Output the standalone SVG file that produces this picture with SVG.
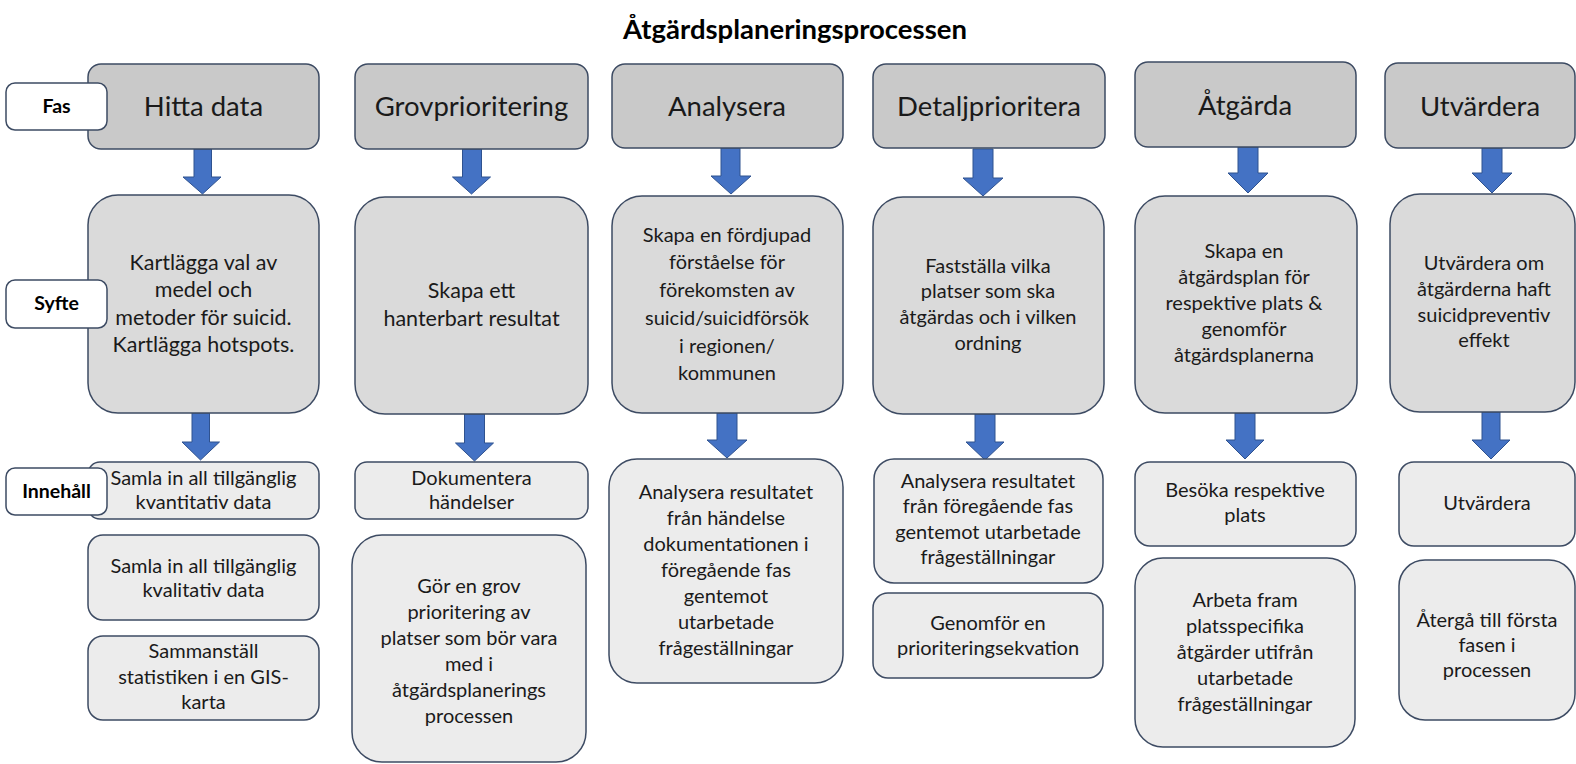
<svg xmlns="http://www.w3.org/2000/svg" width="1576" height="764" viewBox="0 0 1576 764">
  <style>
    .phase { fill: #c9c9c9; stroke: #3d4b63; stroke-width: 1.5; }
    .aim { fill: #dadada; stroke: #3d4b63; stroke-width: 1.5; }
    .content { fill: #ececec; stroke: #3d4b63; stroke-width: 1.5; }
    .label { fill: #ffffff; stroke: #3d4b63; stroke-width: 1.5; }
    .arrow { fill: #4472c4; stroke: #2f528f; stroke-width: 1; }
    text { font-family: Lato, "Open Sans", sans-serif; fill: #1a1a1a; text-anchor: middle; }
    .title { font-size: 27.5px; font-weight: bold; fill: #000; }
    .tphase { font-size: 27.5px; }
    .taimL { font-size: 21.5px; }
    .taim { font-size: 20px; }
    .tcont { font-size: 20px; }
    .tlabel { font-size: 19.5px; font-weight: bold; fill: #000; }
  </style>

  <text class="title" x="795" y="39">Åtgärdsplaneringsprocessen</text>

  <!-- connectors: block arrows between the rows -->
  <g id="connectors">
    <polygon class="arrow" points="194,149 211.5,149 211.5,177 221,177 202.5,194 183,177 194,177"/>
    <polygon class="arrow" points="462.5,149 481.5,149 481.5,177 490.5,177 471.5,194 452.5,177 462.5,177"/>
    <polygon class="arrow" points="721,148 740,148 740,176 751,176 731,194 711,176 721,176"/>
    <polygon class="arrow" points="973,149 993,149 993,178 1003,178 983,196 963,178 973,178"/>
    <polygon class="arrow" points="1238,147 1258,147 1258,173 1268,173 1248,193 1228,173 1238,173"/>
    <polygon class="arrow" points="1482,148 1502,148 1502,173 1512,173 1492,193 1472,173 1482,173"/>

    <polygon class="arrow" points="192,413 209.5,413 209.5,442 219.5,442 200.5,460 182,442 192,442"/>
    <polygon class="arrow" points="464.5,414 484.5,414 484.5,443 493.5,443 474.5,461 455.5,443 464.5,443"/>
    <polygon class="arrow" points="717,413 737,413 737,440 747,440 727,458 707,440 717,440"/>
    <polygon class="arrow" points="975,414 995,414 995,442 1004,442 985,460 966,442 975,442"/>
    <polygon class="arrow" points="1235,413 1255,413 1255,440 1264,440 1245,459 1226,440 1235,440"/>
    <polygon class="arrow" points="1482,412 1500,412 1500,440 1510,440 1491,459 1472,440 1482,440"/>
  </g>

  <!-- column 1 -->
  <g id="phase-hitta-data">
    <rect class="phase" x="88" y="64" width="231" height="85" rx="13"/>
    <text class="tphase" x="203.5" y="116">Hitta data</text>
  </g>
  <g id="aim-hitta-data">
    <rect class="aim" x="88" y="195" width="231" height="218" rx="30"/>
    <text class="taimL"><tspan x="203.5" y="270">Kartlägga val av</tspan><tspan x="203.5" y="297">medel och</tspan><tspan x="203.5" y="325">metoder för suicid.</tspan><tspan x="203.5" y="352">Kartlägga hotspots.</tspan></text>
  </g>
  <g id="content-kvantitativ">
    <rect class="content" x="88" y="462" width="231" height="57" rx="12"/>
    <text class="tcont"><tspan x="203.5" y="485">Samla in all tillgänglig</tspan><tspan x="203.5" y="509">kvantitativ data</tspan></text>
  </g>
  <g id="content-kvalitativ">
    <rect class="content" x="88" y="535" width="231" height="85" rx="15"/>
    <text class="tcont"><tspan x="203.5" y="573">Samla in all tillgänglig</tspan><tspan x="203.5" y="597">kvalitativ data</tspan></text>
  </g>
  <g id="content-gis">
    <rect class="content" x="88" y="636" width="231" height="84" rx="15"/>
    <text class="tcont"><tspan x="203.5" y="658">Sammanställ</tspan><tspan x="203.5" y="684">statistiken i en GIS-</tspan><tspan x="203.5" y="709">karta</tspan></text>
  </g>

  <!-- column 2 -->
  <g id="phase-grovprioritering">
    <rect class="phase" x="355" y="64" width="233" height="85" rx="13"/>
    <text class="tphase" x="471.5" y="116">Grovprioritering</text>
  </g>
  <g id="aim-grovprioritering">
    <rect class="aim" x="355" y="197" width="233" height="217" rx="30"/>
    <text class="taimL"><tspan x="471.5" y="298">Skapa ett</tspan><tspan x="471.5" y="326">hanterbart resultat</tspan></text>
  </g>
  <g id="content-dokumentera">
    <rect class="content" x="355" y="462" width="233" height="57" rx="12"/>
    <text class="tcont"><tspan x="471.5" y="485">Dokumentera</tspan><tspan x="471.5" y="509">händelser</tspan></text>
  </g>
  <g id="content-grov-prioritering">
    <rect class="content" x="352" y="535" width="234" height="227" rx="30"/>
    <text class="tcont"><tspan x="469" y="593">Gör en grov</tspan><tspan x="469" y="619">prioritering av</tspan><tspan x="469" y="645">platser som bör vara</tspan><tspan x="469" y="671">med i</tspan><tspan x="469" y="697">åtgärdsplanerings</tspan><tspan x="469" y="723">processen</tspan></text>
  </g>

  <!-- column 3 -->
  <g id="phase-analysera">
    <rect class="phase" x="612" y="64" width="231" height="84" rx="13"/>
    <text class="tphase" x="727" y="116">Analysera</text>
  </g>
  <g id="aim-analysera">
    <rect class="aim" x="612" y="196" width="231" height="217" rx="30"/>
    <text class="taim"><tspan x="727" y="242">Skapa en fördjupad</tspan><tspan x="727" y="269">förståelse för</tspan><tspan x="727" y="297">förekomsten av</tspan><tspan x="727" y="325">suicid/suicidförsök</tspan><tspan x="727" y="353">i regionen/</tspan><tspan x="727" y="380">kommunen</tspan></text>
  </g>
  <g id="content-analysera">
    <rect class="content" x="609" y="459" width="234" height="224" rx="28"/>
    <text class="tcont"><tspan x="726" y="499">Analysera resultatet</tspan><tspan x="726" y="525">från händelse</tspan><tspan x="726" y="551">dokumentationen i</tspan><tspan x="726" y="577">föregående fas</tspan><tspan x="726" y="603">gentemot</tspan><tspan x="726" y="629">utarbetade</tspan><tspan x="726" y="655">frågeställningar</tspan></text>
  </g>

  <!-- column 4 -->
  <g id="phase-detaljprioritera">
    <rect class="phase" x="873" y="64" width="232" height="84" rx="13"/>
    <text class="tphase" x="989" y="116">Detaljprioritera</text>
  </g>
  <g id="aim-detaljprioritera">
    <rect class="aim" x="873" y="197" width="231" height="217" rx="30"/>
    <text class="taim"><tspan x="988" y="273">Fastställa vilka</tspan><tspan x="988" y="298">platser som ska</tspan><tspan x="988" y="324">åtgärdas och i vilken</tspan><tspan x="988" y="350">ordning</tspan></text>
  </g>
  <g id="content-analysera-resultatet">
    <rect class="content" x="874" y="459" width="229" height="124" rx="20"/>
    <text class="tcont"><tspan x="988" y="488">Analysera resultatet</tspan><tspan x="988" y="513">från föregående fas</tspan><tspan x="988" y="539">gentemot utarbetade</tspan><tspan x="988" y="564">frågeställningar</tspan></text>
  </g>
  <g id="content-ekvation">
    <rect class="content" x="873" y="593" width="230" height="85" rx="15"/>
    <text class="tcont"><tspan x="988" y="630">Genomför en</tspan><tspan x="988" y="655">prioriteringsekvation</tspan></text>
  </g>

  <!-- column 5 -->
  <g id="phase-atgarda">
    <rect class="phase" x="1135" y="62" width="221" height="85" rx="13"/>
    <text class="tphase" x="1245" y="115">Åtgärda</text>
  </g>
  <g id="aim-atgarda">
    <rect class="aim" x="1135" y="196" width="222" height="217" rx="30"/>
    <text class="taim"><tspan x="1244" y="258">Skapa en</tspan><tspan x="1244" y="284">åtgärdsplan för</tspan><tspan x="1244" y="310">respektive plats &amp;</tspan><tspan x="1244" y="336">genomför</tspan><tspan x="1244" y="362">åtgärdsplanerna</tspan></text>
  </g>
  <g id="content-besoka">
    <rect class="content" x="1135" y="462" width="221" height="84" rx="15"/>
    <text class="tcont"><tspan x="1245" y="497">Besöka respektive</tspan><tspan x="1245" y="522">plats</tspan></text>
  </g>
  <g id="content-arbeta-fram">
    <rect class="content" x="1135" y="558" width="220" height="189" rx="28"/>
    <text class="tcont"><tspan x="1245" y="607">Arbeta fram</tspan><tspan x="1245" y="633">platsspecifika</tspan><tspan x="1245" y="659">åtgärder utifrån</tspan><tspan x="1245" y="685">utarbetade</tspan><tspan x="1245" y="711">frågeställningar</tspan></text>
  </g>

  <!-- column 6 -->
  <g id="phase-utvardera">
    <rect class="phase" x="1385" y="63" width="190" height="85" rx="13"/>
    <text class="tphase" x="1480" y="116">Utvärdera</text>
  </g>
  <g id="aim-utvardera">
    <rect class="aim" x="1390" y="194" width="185" height="218" rx="30"/>
    <text class="taim"><tspan x="1484" y="270">Utvärdera om</tspan><tspan x="1484" y="296">åtgärderna haft</tspan><tspan x="1484" y="322">suicidpreventiv</tspan><tspan x="1484" y="347">effekt</tspan></text>
  </g>
  <g id="content-utvardera">
    <rect class="content" x="1399" y="462" width="176" height="84" rx="15"/>
    <text class="tcont" x="1487" y="510">Utvärdera</text>
  </g>
  <g id="content-atergaa">
    <rect class="content" x="1399" y="560" width="176" height="160" rx="26"/>
    <text class="tcont"><tspan x="1487" y="627">Återgå till första</tspan><tspan x="1487" y="652">fasen i</tspan><tspan x="1487" y="677">processen</tspan></text>
  </g>

  <!-- row labels -->
  <g id="label-fas">
    <rect class="label" x="6" y="83" width="101" height="47" rx="9"/>
    <text class="tlabel" x="56.5" y="113">Fas</text>
  </g>
  <g id="label-syfte">
    <rect class="label" x="6" y="280" width="101" height="48" rx="9"/>
    <text class="tlabel" x="56.5" y="310">Syfte</text>
  </g>
  <g id="label-innehall">
    <rect class="label" x="6" y="468" width="101" height="47" rx="9"/>
    <text class="tlabel" x="56.5" y="498">Innehåll</text>
  </g>
</svg>
